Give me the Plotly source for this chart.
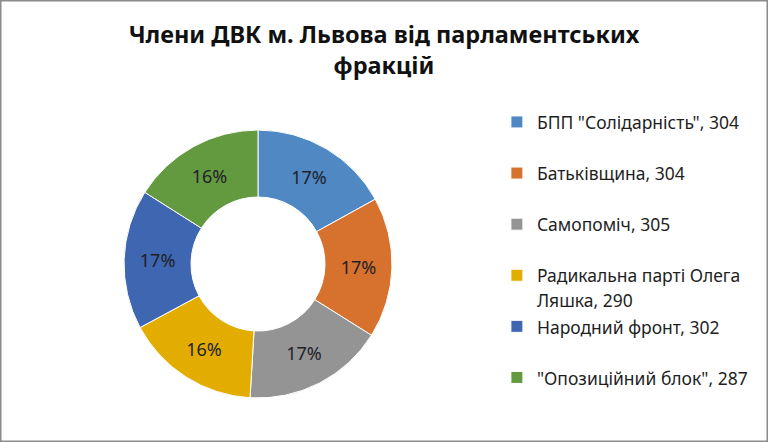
import plotly.graph_objects as go

title_lines = ["Члени ДВК м. Львова від парламентських", "фракцій"]
parties = [
    "БПП \"Солідарність\"",
    "Батьківщина",
    "Самопоміч",
    "Радикальна парті Олега<br>Ляшка",
    "Народний фронт",
    "\"Опозиційний блок\"",
]
members = [304, 304, 305, 290, 302, 287]
colors = ["#4F88C2", "#D6712E", "#949494", "#E3AD00", "#3F66B0", "#649A3F"]

legend_labels = []
for p, v in zip(parties, members):
    txt = f"{p}, {v}"
    if "<br>" not in txt:
        txt += "<br> "
    legend_labels.append(f"<span style='font-size:17.5px'>{txt}</span>")

fig = go.Figure(
    go.Pie(
        labels=legend_labels,
        values=members,
        hole=0.5,
        sort=False,
        direction="clockwise",
        rotation=0,
        marker=dict(colors=colors, line=dict(color="white", width=1)),
        texttemplate="%{percent:.0%}",
        textposition="inside",
        insidetextorientation="horizontal",
        textfont=dict(family="Noto Sans", size=18, color="#1F1F2A"),
        domain=dict(x=[0.1615, 0.5104], y=[0.0995, 0.7059]),
        showlegend=True,
    )
)

fig.update_layout(
    width=768,
    height=442,
    margin=dict(l=0, r=0, t=0, b=0),
    paper_bgcolor="white",
    plot_bgcolor="white",
    title=dict(
        text="<br>".join(title_lines),
        x=0.5,
        xanchor="center",
        y=0.902,
        yanchor="top",
        font=dict(family="Noto Sans", size=23.5, color="#111111", weight="bold"),
    ),
    legend=dict(
        x=0.647,
        xanchor="left",
        y=0.766,
        yanchor="top",
        valign="top",
        font=dict(family="Noto Sans", size=18.5, color="#1F1F1F"),
        itemwidth=30,
    ),
    shapes=[
        dict(type="rect", xref="paper", yref="paper", x0=0, y0=0, x1=1, y1=1,
             line=dict(color="#8C8C8C", width=3), fillcolor="rgba(0,0,0,0)"),
    ],
)

fig.write_html(
    "out.html",
    config={"displayModeBar": False},
    post_script="document.body.style.margin='0';document.body.style.overflow='hidden';",
)
